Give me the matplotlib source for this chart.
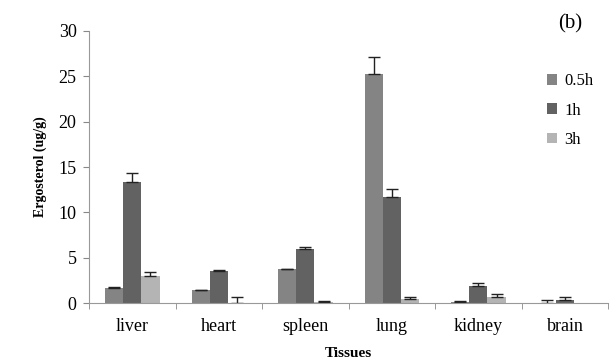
import numpy as np
import matplotlib.pyplot as plt

plt.rcParams['font.family'] = ['Liberation Serif', 'DejaVu Serif']

tissues = ['liver', 'heart', 'spleen', 'lung', 'kidney', 'brain']
series = ['0.5h', '1h', '3h']
vals_05h = [1.7, 1.4, 3.75, 25.3, 0.1, 0.0]
vals_1h = [13.3, 3.5, 5.95, 11.7, 1.85, 0.35]
vals_3h = [3.0, 0.0, 0.15, 0.4, 0.65, np.nan]
err_05h = [0.1, 0.1, 0.05, 1.8, 0.1, 0.35]
err_1h = [1.0, 0.2, 0.25, 0.9, 0.4, 0.35]
err_3h = [0.45, 0.7, 0.05, 0.3, 0.35, np.nan]
colors = ['#848484', '#626262', '#b4b4b4']

fig = plt.figure(figsize=(6.1, 3.6), dpi=100)
ax = fig.add_axes([0.146, 0.158, 0.851, 0.756])

x = np.arange(len(tissues))
w = 0.21
for i, (v, e, c, s) in enumerate(zip([vals_05h, vals_1h, vals_3h],
                                    [err_05h, err_1h, err_3h], colors, series)):
    ax.bar(x + (i - 1) * w, v, w, color=c, label=s,
           yerr=[np.zeros(len(e)), e], capsize=4,
           error_kw=dict(elinewidth=1, capthick=1, ecolor='#222222'))

ax.set_xlim(-0.5, len(tissues) - 0.5)
ax.set_ylim(0, 30)
ax.set_yticks(range(0, 31, 5))
ax.set_xticks(x)
ax.set_xticklabels(tissues)
ax.set_xticks(np.arange(-0.5, len(tissues)), minor=True)
ax.tick_params(axis='x', which='major', length=0, pad=11, labelsize=13)
ax.tick_params(axis='x', which='minor', length=4, color='#888888')
ax.tick_params(axis='y', length=4, color='#888888', labelsize=13, pad=5)
for sp in ['top', 'right']:
    ax.spines[sp].set_visible(False)
for sp in ['left', 'bottom']:
    ax.spines[sp].set_color('#999999')

ax.set_ylabel('Ergosterol (ug/g)', fontsize=10, fontweight='bold', labelpad=8)
ax.set_xlabel('Tissues', fontsize=11, fontweight='bold', labelpad=8)

ax.legend(loc='upper right', bbox_to_anchor=(1.0, 0.9), frameon=False,
          fontsize=12, handlelength=0.6, handleheight=0.6, handletextpad=0.4,
          labelspacing=0.8)
fig.text(0.935, 0.935, '(b)', fontsize=15, ha='center', va='center')

fig.savefig('out.png', dpi=100)
